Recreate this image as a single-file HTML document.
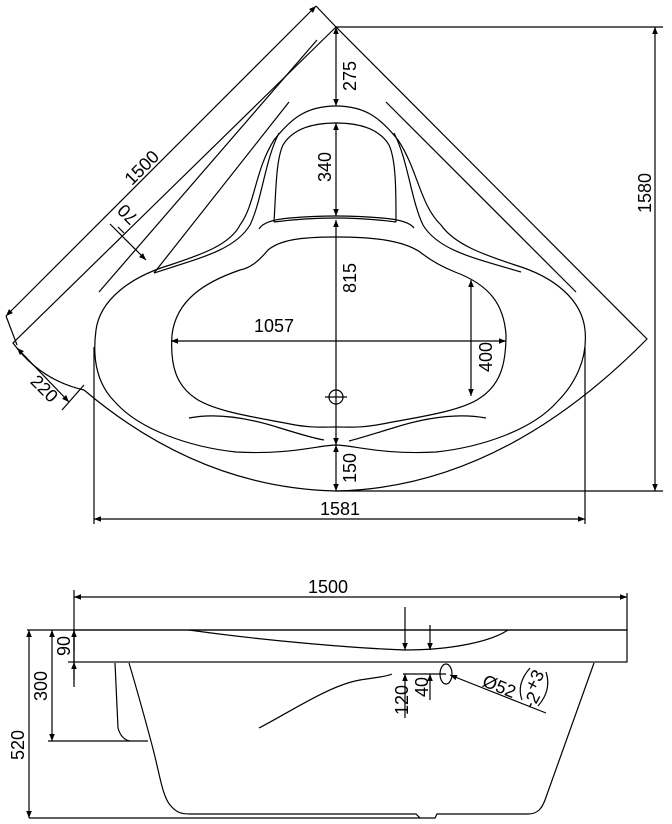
<!DOCTYPE html>
<html><head><meta charset="utf-8"><style>html,body{margin:0;padding:0;background:#fff}svg{display:block}text{font-family:"Liberation Sans",sans-serif;font-size:18px;fill:#000}</style></head><body>
<svg width="672" height="824" viewBox="0 0 672 824" xmlns="http://www.w3.org/2000/svg">
<defs><marker id="a" viewBox="0 0 10 10" refX="10" refY="5" markerWidth="9" markerHeight="7" orient="auto-start-reverse" markerUnits="userSpaceOnUse"><path d="M0,1 L10,5 L0,9 z" fill="#000"/></marker></defs>
<g fill="none" stroke="#000" stroke-width="1.2">
<path d="M336,27 L13,343 Q40,380 84,390 Q200,488 336,491 Q500,488 647,339 Z"/>
<line x1="317" y1="40" x2="99" y2="292"/>
<line x1="289" y1="102" x2="154" y2="273"/>
<line x1="386" y1="102" x2="576" y2="292"/>
<path d="M336,106 C305,106 290,120 274,140 C255,170 255,205 240,225 C230,245 200,255 170,265 C130,277 100,300 96,330 C92,360 98,385 115,402 C140,430 190,447 236,452 C290,455 320,445 336,445 C352,445 382,455 436,452 C482,447 532,430 557,402 C574,385 588,360 585,330 C582,300 555,277 515,265 C485,255 455,245 441,225 C420,205 418,170 398,140 C382,120 367,106 336,106 Z"/>
<path d="M279,133 C265,160 262,200 250,225 C235,250 200,258 154,273"/>
<path d="M394,133 C408,160 411,200 423,225 C438,250 473,258 521,272"/>
<path d="M274,222 C276,190 276,160 283,145 C292,130 310,123 336,123 C362,123 380,130 389,145 C396,160 396,190 396,222"/>
<path d="M274,222 Q336,214 396,222"/>
<path d="M259,229 Q264,220 290,218 Q336,214 382,218 Q408,220 414,228"/>
<path d="M336,237 C300,237 280,240 268,250 C258,262 250,268 240,270 C205,282 176,300 172,335 C170,365 176,385 195,398 C215,412 260,418 290,424 C310,428 320,427 336,427 C352,427 362,428 382,424 C412,418 460,412 480,398 C500,385 506,365 506,335 C504,305 490,285 455,272 C440,266 430,260 420,252 C402,240 372,237 336,237 Z"/>
<path d="M189,418 C220,412 255,420 280,428 C300,434 312,438 324,440"/>
<path d="M349,441 C361,438 373,434 393,428 C418,420 453,412 486,418"/>
<circle cx="336" cy="397" r="7"/>
<line x1="325" y1="397" x2="347" y2="397"/>
<line x1="6" y1="316" x2="316" y2="6" marker-start="url(#a)" marker-end="url(#a)"/>
<line x1="316" y1="6" x2="336" y2="27"/>
<line x1="6" y1="316" x2="17" y2="345"/>
<line x1="336" y1="27" x2="336" y2="106" marker-start="url(#a)" marker-end="url(#a)"/>
<line x1="336" y1="123" x2="336" y2="216" marker-start="url(#a)" marker-end="url(#a)"/>
<line x1="336" y1="220" x2="336" y2="445" marker-start="url(#a)" marker-end="url(#a)"/>
<line x1="336" y1="445" x2="336" y2="491" marker-start="url(#a)" marker-end="url(#a)"/>
<line x1="171" y1="341" x2="506" y2="341" marker-start="url(#a)" marker-end="url(#a)"/>
<line x1="471" y1="280" x2="471" y2="396" marker-start="url(#a)" marker-end="url(#a)"/>
<line x1="336" y1="27" x2="663" y2="27"/>
<line x1="336" y1="491" x2="663" y2="491"/>
<line x1="655" y1="27" x2="655" y2="491" marker-start="url(#a)" marker-end="url(#a)"/>
<line x1="94" y1="347" x2="94" y2="524"/>
<line x1="585" y1="347" x2="585" y2="524"/>
<line x1="94" y1="519" x2="585" y2="519" marker-start="url(#a)" marker-end="url(#a)"/>
<line x1="110" y1="224" x2="146" y2="260" marker-end="url(#a)"/>
<line x1="124" y1="233" x2="118" y2="227"/>
<line x1="17" y1="348" x2="69" y2="402" marker-start="url(#a)" marker-end="url(#a)"/>
<line x1="84" y1="385" x2="62" y2="410"/>
<line x1="74" y1="597" x2="627" y2="597" marker-start="url(#a)" marker-end="url(#a)"/>
<line x1="74" y1="590" x2="74" y2="687"/>
<line x1="627" y1="593" x2="627" y2="630"/>
<line x1="27" y1="630" x2="627" y2="630"/>
<rect x="74" y="630" width="553" height="32"/>
<line x1="68" y1="662" x2="74" y2="662"/>
<path d="M189,630 C260,640 350,648 405,650 C450,650 490,642 508,630"/>
<path d="M129,663 C140,700 148,730 152,745 C160,775 162,795 170,805 C176,812 180,814 190,814 L416,814 L420,818 L435,818 L437,814 L528,814 C538,814 542,808 545,800 L594,663"/>
<path d="M115,663 L118,728 C120,735 124,740 130,741 L148,741"/>
<line x1="48" y1="741" x2="130" y2="741"/>
<path d="M259,728 C290,712 330,685 360,680 C380,677 388,676 392,674"/>
<line x1="52" y1="630" x2="52" y2="741" marker-start="url(#a)" marker-end="url(#a)"/>
<line x1="29" y1="630" x2="29" y2="818" marker-start="url(#a)" marker-end="url(#a)"/>
<line x1="29" y1="818" x2="420" y2="818"/>
<line x1="74" y1="650" x2="74" y2="630" marker-end="url(#a)"/>
<line x1="74" y1="680" x2="74" y2="662" marker-end="url(#a)"/>
<line x1="405" y1="607" x2="405" y2="650" marker-end="url(#a)"/>
<line x1="405" y1="718" x2="405" y2="674" marker-end="url(#a)"/>
<line x1="403" y1="674" x2="446" y2="674"/>
<line x1="430" y1="625" x2="430" y2="650" marker-end="url(#a)"/>
<line x1="430" y1="700" x2="430" y2="674" marker-end="url(#a)"/>
<ellipse cx="446" cy="674" rx="6" ry="10"/>
<line x1="546" y1="713" x2="450" y2="675" marker-end="url(#a)"/>
<path d="M530,668 Q516,684 522,700"/>
<path d="M546,672 Q552,690 538,706"/>
</g>
<text transform="translate(146,172) rotate(-45)" text-anchor="middle">1500</text>
<text transform="translate(132,210) rotate(225)" text-anchor="middle">70</text>
<text transform="translate(40,393) rotate(45)" text-anchor="middle">220</text>
<text transform="translate(356,76) rotate(-90)" text-anchor="middle">275</text>
<text transform="translate(331,167) rotate(-90)" text-anchor="middle">340</text>
<text transform="translate(356,278) rotate(-90)" text-anchor="middle">815</text>
<text transform="translate(356,468) rotate(-90)" text-anchor="middle">150</text>
<text x="274" y="332" text-anchor="middle">1057</text>
<text transform="translate(492,357) rotate(-90)" text-anchor="middle">400</text>
<text transform="translate(651,193) rotate(-90)" text-anchor="middle">1580</text>
<text x="340" y="515" text-anchor="middle">1581</text>
<text x="328" y="593" text-anchor="middle">1500</text>
<text transform="translate(70,646) rotate(-90)" text-anchor="middle">90</text>
<text transform="translate(47,686) rotate(-90)" text-anchor="middle">300</text>
<text transform="translate(24,745) rotate(-90)" text-anchor="middle">520</text>
<text transform="translate(408,700) rotate(-90)" text-anchor="middle">120</text>
<text transform="translate(428,687) rotate(-90)" text-anchor="middle">40</text>
<text transform="translate(497,692) rotate(22)" text-anchor="middle">Ø52</text>
<text transform="translate(540,683) rotate(-62)" text-anchor="middle">+3</text>
<text transform="translate(537,703) rotate(-62)" text-anchor="middle">-2</text>
</svg>
</body></html>
